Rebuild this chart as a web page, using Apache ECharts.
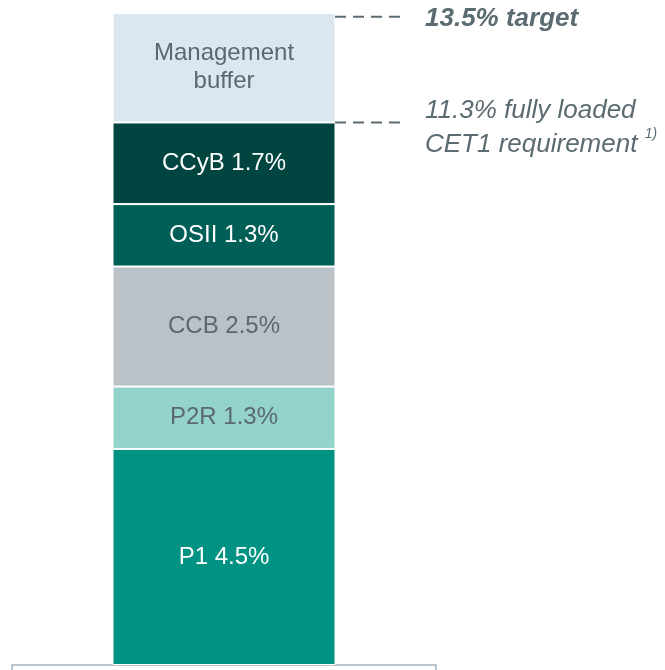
<!DOCTYPE html>
<html>
<head>
<meta charset="utf-8">
<script src="https://cdn.jsdelivr.net/npm/echarts@6/dist/echarts.min.js"></script>
<style>
  html, body { margin: 0; padding: 0; background: #fff; }
  #chart { width: 665px; height: 670px; }
</style>
</head>
<body>
<div id="chart"></div>
<script>
// data, bottom segment first
const categories = ['CET1'];
const segNames = ['P1', 'P2R', 'CCB', 'OSII', 'CCyB', 'Management buffer'];
const segValues = [4.5, 1.3, 2.5, 1.3, 1.7, 2.28];
const segLabels = ['P1 4.5%', 'P2R 1.3%', 'CCB 2.5%', 'OSII 1.3%', 'CCyB 1.7%', 'Management\nbuffer'];
const segColors = ['#009384', '#94d3cb', '#bac2c8', '#005f56', '#004540', '#dce6ef'];
const segTextColors = ['#ffffff', '#5a6870', '#5a6870', '#ffffff', '#ffffff', '#5a6870'];

const markValues = [13.5, 11.3];
const markTexts = [
    '{b|13.5% target}',
    '{n|11.3% fully loaded}\n{n|CET1 requirement }{s|1)}'
];

const FONT = "'Liberation Sans', Arial, sans-serif";
const yMax = segValues.reduce((a, b) => a + b, 0);

const chart = echarts.init(document.getElementById('chart'));

const barSeries = segNames.map((name, i) => ({
    name: name,
    type: 'bar',
    stack: 'total',
    xAxisIndex: 0,
    yAxisIndex: 0,
    barWidth: 223,
    data: [segValues[i]],
    itemStyle: {
        color: segColors[i],
        borderColor: '#ffffff',
        borderWidth: 1
    },
    label: {
        show: true,
        position: 'inside',
        formatter: segLabels[i],
        color: segTextColors[i],
        fontFamily: FONT,
        fontSize: 24,
        lineHeight: 28
    },
    emphasis: { disabled: true }
}));

const markSeries = markValues.map((v, i) => ({
    type: 'line',
    xAxisIndex: 1,
    yAxisIndex: 1,
    data: [[0, v], [1, v]],
    symbol: 'none',
    silent: true,
    lineStyle: {
        color: '#5b6b72',
        width: 2,
        type: [11, 7]
    },
    endLabel: {
        show: true,
        distance: 25,
        offset: [0, i === 0 ? 2 : 5],
        formatter: markTexts[i],
        rich: {
            b: { fontFamily: FONT, fontSize: 26, fontWeight: 'bold', fontStyle: 'italic', color: '#5b6b72' },
            n: { fontFamily: FONT, fontSize: 26, fontStyle: 'italic', color: '#5b6b72', lineHeight: 34 },
            s: { fontFamily: FONT, fontSize: 14, fontStyle: 'italic', color: '#5b6b72', verticalAlign: 'top', lineHeight: 34 }
        }
    }
}));

chart.setOption({
    animation: false,
    grid: [
        { left: 12, width: 424, top: 13, bottom: 5 },
        { left: 335, width: 65, top: 13, bottom: 5 }
    ],
    xAxis: [
        {
            type: 'category',
            gridIndex: 0,
            data: categories,
            axisLine: { show: true, lineStyle: { color: '#b8c4cc', width: 2 } },
            axisTick: { show: true, length: 6, lineStyle: { color: '#b8c4cc', width: 2 } },
            axisLabel: { show: false }
        },
        { type: 'value', gridIndex: 1, min: 0, max: 1, show: false }
    ],
    yAxis: [
        { type: 'value', gridIndex: 0, min: 0, max: yMax, show: false },
        { type: 'value', gridIndex: 1, min: 0, max: yMax, show: false }
    ],
    series: barSeries.concat(markSeries)
});
</script>
</body>
</html>
